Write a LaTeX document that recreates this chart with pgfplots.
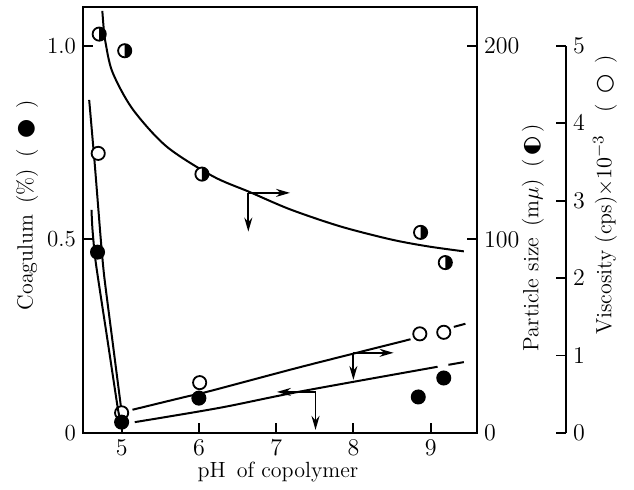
\documentclass[border=0pt]{standalone}
\usepackage{fontspec}
\usepackage{pgfplots}
\pgfplotsset{compat=1.18}
\usetikzlibrary{arrows.meta}
\newfontfamily\sym{DejaVu Sans}

\pgfdeclareplotmark{halfright}{%
  \pgfpathcircle{\pgfpointorigin}{\pgfplotmarksize}%
  \pgfsetfillcolor{white}%
  \pgfusepathqfillstroke
  \pgfpathmoveto{\pgfqpoint{0pt}{\pgfplotmarksize}}%
  \pgfpatharc{90}{-90}{\pgfplotmarksize}%
  \pgfpathclose
  \pgfsetfillcolor{black}%
  \pgfusepathqfill
}

\pgfplotsset{
  base/.style={
    scale only axis, width=197pt, height=213pt,
    xmin=4.5, xmax=9.6,
    tick align=inside, major tick length=5pt,
    tick style={line width=0.9pt, black},
    axis line style={line width=1.1pt},
    tick label style={font=\fontsize{11.5}{12}\selectfont},
    label style={font=\fontsize{11}{13}\selectfont\addfontfeatures{LetterSpace=4}},
    clip=false,
  },
  curve/.style={black, line width=1pt, no marks},
}

\begin{document}
\begin{tikzpicture}
% ---------- particle size axis (inner right) ----------
\begin{axis}[base,
  ymin=0, ymax=220,
  hide x axis, axis y line*=right,
  ytick={0,100,200},
  ylabel={Particle size\enspace (m$\mu$)\enspace (\,{\sym◐}\,)},
  ylabel style={at={(axis description cs:1.142,0.458)}, anchor=center, rotate=0,
    font=\fontsize{11}{13}\selectfont\addfontfeatures{LetterSpace=8}},
]
\addplot[curve, smooth, tension=0.5] coordinates {
  (4.75,218) (4.77,208) (4.79,202) (4.88,186.5) (5.14,167.4) (5.58,148)
  (6.18,132.6) (6.66,124.4) (7.18,115.5) (7.83,106.7) (8.48,100) (8.96,96.4) (9.43,93.8)};
\addplot[only marks, mark=halfright, mark size=3.3pt, mark options={line width=0.9pt, draw=black}] coordinates {
  (4.71,206) (5.04,197.4) (6.04,133.7) (8.87,103.6) (9.19,88)};
\end{axis}

% ---------- viscosity data (hidden axis, same frame) ----------
\begin{axis}[base,
  ymin=0, ymax=5.5,
  hide x axis, hide y axis,
]
\addplot[curve, smooth, tension=0.4] coordinates {
  (4.58,4.30) (4.653,3.46) (4.731,2.49) (4.775,2.02) (4.88,1.20) (4.991,0.34)};
\addplot[curve, smooth, tension=0.4] coordinates {
  (5.14,0.30) (5.82,0.465) (6.14,0.54) (7.31,0.85) (8.74,1.21)};
\addplot[curve] coordinates {(9.30,1.37) (9.45,1.41)};
\addplot[only marks, mark=*, mark size=3.3pt, mark options={line width=0.9pt, draw=black, fill=white}] coordinates {
  (4.697,3.61) (5.0,0.26) (6.01,0.65) (8.86,1.28) (9.17,1.30)};
\end{axis}

% ---------- coagulum axis (main box) ----------
\begin{axis}[base,
  ymin=0, ymax=1.1,
  xtick={5,6,7,8,9}, xtick pos=left,
  ytick={0,0.5,1}, yticklabels={0,0.5,1.0}, ytick pos=left,
  xlabel={pH\enspace of copolymer},
  xlabel style={at={(axis description cs:0.495,-0.0915)}, anchor=center},
  ylabel={Coagulum\enspace (\%)\enspace (\enspace{\sym●}\enspace)},
  ylabel style={at={(axis description cs:-0.142,0.535)}, anchor=center},
]
\addplot[curve, smooth, tension=0.4] coordinates {
  (4.61,0.576) (4.623,0.525) (4.666,0.439) (4.817,0.24) (4.948,0.067) (4.975,0.04)};
\addplot[curve, smooth, tension=0.5] coordinates {
  (5.17,0.028) (6.27,0.065) (7.31,0.107) (9.09,0.171)};
\addplot[curve] coordinates {(9.23,0.176) (9.43,0.183)};
\addplot[only marks, mark=*, mark size=3.3pt, mark options={line width=0.9pt, draw=black, fill=black}] coordinates {
  (4.688,0.467) (5.0,0.028) (6.0,0.09) (8.84,0.093) (9.17,0.142)};
% arrows indicating the axis of each curve
\draw[-{Stealth[length=7pt,width=4pt]}, line width=0.9pt] (axis cs:6.64,0.62) -- (axis cs:7.18,0.62);
\draw[-{Stealth[length=7pt,width=4pt]}, line width=0.9pt] (axis cs:6.64,0.62) -- (axis cs:6.64,0.52);
\draw[-{Stealth[length=7pt,width=4pt]}, line width=0.9pt] (axis cs:8.0,0.207) -- (axis cs:8.52,0.207);
\draw[-{Stealth[length=7pt,width=4pt]}, line width=0.9pt] (axis cs:8.0,0.207) -- (axis cs:8.0,0.137);
\draw[-{Stealth[length=7pt,width=4pt]}, line width=0.9pt] (axis cs:7.51,0.106) -- (axis cs:7.01,0.106);
\draw[-{Stealth[length=7pt,width=4pt]}, line width=0.9pt] (axis cs:7.51,0.106) -- (axis cs:7.51,0.008);
\end{axis}

% ---------- viscosity scale (far right) ----------
\begin{axis}[base, xshift=44.5pt,
  ymin=0, ymax=5.5,
  hide x axis, axis y line*=right,
  y axis line style={draw=none},
  ytick={0,1,2,3,4,5},
  ylabel={Viscosity (cps)$\times10^{-3}$\quad (\enspace{\sym○}\enspace)},
  ylabel style={at={(axis description cs:1.099,0.559)}, anchor=center, rotate=0},
]
\draw[line width=1.1pt] (rel axis cs:1,0) -- (rel axis cs:1,{5/5.5});
\end{axis}

\pgfresetboundingbox
\path[use as bounding box] (-41.5pt,-28.5pt) rectangle (275.5pt,216.5pt);
\end{tikzpicture}
\end{document}
